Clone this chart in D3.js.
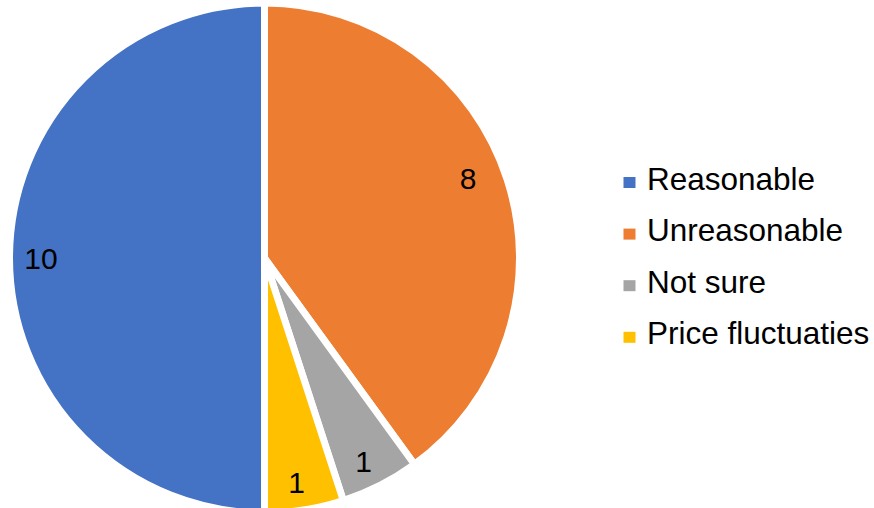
<!DOCTYPE html>
<html><head><meta charset="utf-8">
<script src="https://cdn.jsdelivr.net/npm/d3@7/dist/d3.min.js"></script>
<style>body{margin:0;background:#fff}svg{display:block}</style>
</head><body>
<svg id="c" width="874" height="508"></svg>
<script>
const categories = ["Reasonable", "Unreasonable", "Not sure", "Price fluctuaties"];
const values = [10, 8, 1, 1];
const colors = ["#4472C4", "#ED7D31", "#A5A5A5", "#FFC000"];

// label placement (layout only: radius in px, angle tweak in degrees)
const labelPlace = [{r: 223.5, da: 0}, {r: 218.5, da: -3.3}, {r: 226, da: 1}, {r: 227, da: 0.9}];

const svg = d3.select("#c");
const cx = 264.5, cy = 258, R = 255;
const g = svg.append("g").attr("transform", `translate(${cx},${cy})`);

const pie = d3.pie().sort(null).value(d => d)
  .startAngle(Math.PI).endAngle(Math.PI * 3);
const arcs = pie(values);
const arc = d3.arc().innerRadius(0).outerRadius(R);

g.selectAll("path").data(arcs).join("path")
  .attr("d", arc)
  .attr("fill", (d, i) => colors[i])
  .attr("stroke", "#fff").attr("stroke-width", 7).attr("stroke-linejoin", "miter");

g.selectAll("text.lbl").data(arcs).join("text")
  .attr("class", "lbl")
  .attr("transform", (d, i) => {
    const m = (d.startAngle + d.endAngle) / 2 + labelPlace[i].da * Math.PI / 180;
    const r = labelPlace[i].r;
    return `translate(${Math.sin(m) * r},${-Math.cos(m) * r})`;
  })
  .attr("text-anchor", "middle").attr("dominant-baseline", "central")
  .attr("font-family", "Liberation Sans, Arial, sans-serif")
  .attr("font-size", 30).attr("fill", "#000")
  .text(d => d.value);

const leg = svg.append("g");
const rows = leg.selectAll("g").data(categories).join("g")
  .attr("transform", (d, i) => `translate(0,${i * 51.6})`);
rows.append("rect").attr("x", 623.5).attr("y", 177).attr("width", 12).attr("height", 11)
  .attr("fill", (d, i) => colors[i]);
rows.append("text").attr("x", 647).attr("y", 189.5)
  .attr("font-family", "Liberation Sans, Arial, sans-serif")
  .attr("font-size", 31.5).attr("fill", "#000")
  .text(d => d);
</script>
</body></html>
